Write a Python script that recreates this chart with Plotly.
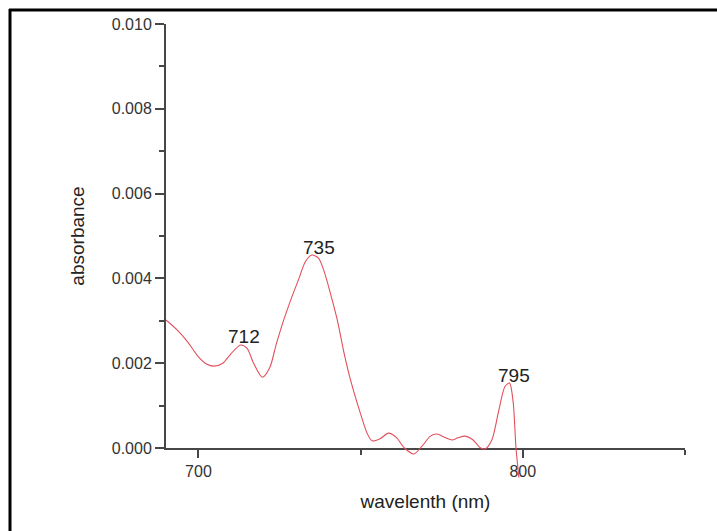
import plotly.graph_objects as go

# ---- data ----
wavelength = [690, 693.5, 696.6, 700, 702.5, 704.8, 707.5, 710, 713, 715, 717, 719.7,
              722, 724, 726.3, 728.5, 731, 733, 735, 737, 738.6, 740.5, 742.8, 745, 746.9,
              750, 752, 753.5, 756, 758.6, 761, 763.5, 766.4, 769, 771.5, 773.5, 776,
              778.2, 780, 782.2, 784.5, 787, 788.5, 790.5, 792.5, 794.5, 795.9, 797,
              797.9, 798.8]
absorbance = [0.00302, 0.00278, 0.00251, 0.00215, 0.00198, 0.00193, 0.00200, 0.00222,
              0.00243, 0.00235, 0.00200, 0.00167, 0.00190, 0.00245, 0.00302, 0.00350,
              0.00400, 0.00440, 0.00455, 0.00448, 0.00420, 0.00370, 0.00302, 0.00220,
              0.00160, 0.00080, 0.00035, 0.00017, 0.00022, 0.00035, 0.00025, 0.00000,
              -0.00014, 0.00005, 0.00028, 0.00033, 0.00025, 0.00019, 0.00024, 0.00028,
              0.00020, 0.00000, -0.00002, 0.00020, 0.00085, 0.00145, 0.00153, 0.00110,
              0.00000, -0.00070]
peak_labels = ["712", "735", "795"]
x_range = [690, 850]
y_range = [0.0, 0.010]
x_tickvals = [700, 800]
y_tickvals = [0.000, 0.002, 0.004, 0.006, 0.008, 0.010]
y_ticktext = ["0.000", "0.002", "0.004", "0.006", "0.008", "0.010"]
x_title = "wavelenth (nm)"
y_title = "absorbance"

# ---- layout geometry ----
W, H = 717, 531
ML, MR, MT = 166, 32, 24
MAIN_BOTTOM = 83          # distance of x axis from bottom of image
EXTRA = 40                # room below the x axis where the curve may run
MB = MAIN_BOTTOM - EXTRA
plot_h = H - MT - MB
main_dom0 = EXTRA / plot_h
y2_low = y_range[0] - (y_range[1] - y_range[0]) * EXTRA / (plot_h - EXTRA)

FONT = "Liberation Sans, Arial, sans-serif"
AXC = "#474747"
TXT = "#333333"
RED = "#e2505c"

fig = go.Figure()
# empty trace so the main axes exist
fig.add_trace(go.Scatter(x=[None], y=[None], xaxis="x", yaxis="y", showlegend=False,
                         hoverinfo="skip"))
fig.add_trace(go.Scatter(x=wavelength, y=absorbance, xaxis="x2", yaxis="y2",
                         mode="lines", line=dict(color=RED, width=1.1, shape="spline",
                                                 smoothing=0.8),
                         showlegend=False))

# peak annotations
annotations = []
for lab in peak_labels:
    v = float(lab)
    near = [(a, w) for w, a in zip(wavelength, absorbance) if abs(w - v) <= 3]
    ymax, wx = max(near)
    annotations.append(dict(x=v, y=ymax, xref="x", yref="y", text=lab, showarrow=False,
                            xanchor="center", yanchor="middle", xshift=7, yshift=8,
                            font=dict(family=FONT, size=19, color="#222222")))

fig.update_layout(
    width=W, height=H,
    margin=dict(l=ML, r=MR, t=MT, b=MB, pad=0),
    paper_bgcolor="white", plot_bgcolor="rgba(0,0,0,0)",
    showlegend=False,
    font=dict(family=FONT, color=TXT),
    xaxis=dict(range=x_range, domain=[0, 1], anchor="y", showgrid=False, zeroline=False,
               showline=True, linecolor=AXC, linewidth=2,
               tickmode="array", tickvals=x_tickvals, ticks="outside", ticklen=8,
               tickwidth=2, tickcolor=AXC,
               tickfont=dict(family=FONT, size=16, color=TXT),
               minor=dict(tick0=700, dtick=50, ticks="outside", ticklen=5, tickwidth=2,
                          tickcolor=AXC, showgrid=False),
               title=dict(text=x_title, standoff=15,
                          font=dict(family=FONT, size=19, color="#222222"))),
    yaxis=dict(range=y_range, domain=[main_dom0, 1], anchor="x", showgrid=False,
               zeroline=False, showline=True, linecolor=AXC, linewidth=2,
               tickmode="array", tickvals=y_tickvals, ticktext=y_ticktext,
               ticks="outside", ticklen=9, tickwidth=2, tickcolor=AXC,
               tickfont=dict(family=FONT, size=16, color=TXT),
               minor=dict(tick0=0, dtick=0.001, ticks="outside", ticklen=5, tickwidth=2,
                          tickcolor=AXC, showgrid=False),
               title=dict(text=y_title, standoff=22,
                          font=dict(family=FONT, size=19, color="#222222"))),
    xaxis2=dict(range=x_range, domain=[0, 1], anchor="y2", visible=False),
    yaxis2=dict(range=[y2_low, y_range[1]], domain=[0, 1], anchor="x2", visible=False),
    annotations=annotations,
)

# image frame (top and left edges)
plot_w = W - ML - MR
px = lambda p: (p - ML) / plot_w
py = lambda p: (H - MB - p) / plot_h
fig.add_shape(type="line", xref="paper", yref="paper", x0=px(9), x1=px(W + 2),
              y0=py(10), y1=py(10), line=dict(color="black", width=3), layer="above")
fig.add_shape(type="line", xref="paper", yref="paper", x0=px(10), x1=px(10),
              y0=py(9), y1=py(H + 2), line=dict(color="black", width=3), layer="above")

fig.write_html("out.html")
